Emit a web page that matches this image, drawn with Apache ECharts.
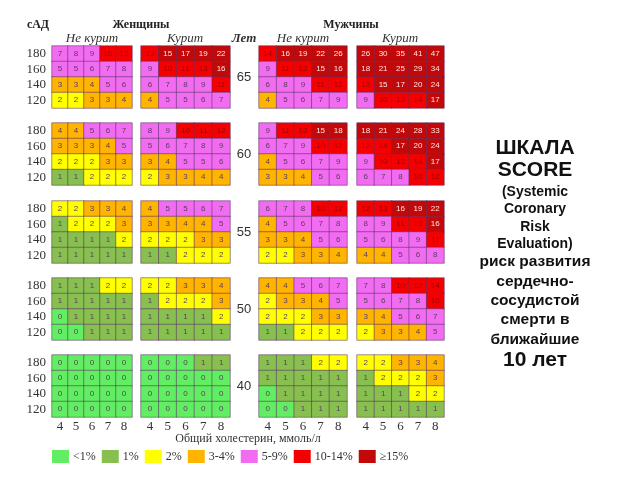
<!DOCTYPE html>
<html>
<head>
<meta charset="utf-8">
<script src="https://cdn.jsdelivr.net/npm/echarts@6/dist/echarts.min.js"></script>
<style>
  html, body { margin: 0; background: #fff; }
  #chart { width: 640px; height: 480px; }
</style>
</head>
<body>
<div id="chart"></div>
<script>
// SCORE chart values, % risk over 10 years
const ages = ['65', '60', '55', '50', '40']
const pressure = ['120', '140', '160', '180']
const cholesterol = ['4', '5', '6', '7', '8']

// each age block: rows from 180 down to 120, columns chol 4..8
const womenNonSmoker = [
  [[7, 8, 9, 10, 12], [5, 5, 6, 7, 8], [3, 3, 4, 5, 6], [2, 2, 3, 3, 4]],
  [[4, 4, 5, 6, 7], [3, 3, 3, 4, 5], [2, 2, 2, 3, 3], [1, 1, 2, 2, 2]],
  [[2, 2, 3, 3, 4], [1, 2, 2, 2, 3], [1, 1, 1, 1, 2], [1, 1, 1, 1, 1]],
  [[1, 1, 1, 2, 2], [1, 1, 1, 1, 1], [0, 1, 1, 1, 1], [0, 0, 1, 1, 1]],
  [[0, 0, 0, 0, 0], [0, 0, 0, 0, 0], [0, 0, 0, 0, 0], [0, 0, 0, 0, 0]]
]
const womenSmoker = [
  [[13, 15, 17, 19, 22], [9, 10, 11, 13, 16], [6, 7, 8, 9, 11], [4, 5, 5, 6, 7]],
  [[8, 9, 10, 11, 12], [5, 6, 7, 8, 9], [3, 4, 5, 5, 6], [2, 3, 3, 4, 4]],
  [[4, 5, 5, 6, 7], [3, 3, 4, 4, 5], [2, 2, 2, 3, 3], [1, 1, 2, 2, 2]],
  [[2, 2, 3, 3, 4], [1, 2, 2, 2, 3], [1, 1, 1, 1, 2], [1, 1, 1, 1, 1]],
  [[0, 0, 0, 1, 1], [0, 0, 0, 0, 0], [0, 0, 0, 0, 0], [0, 0, 0, 0, 0]]
]
const menNonSmoker = [
  [[14, 16, 19, 22, 26], [9, 11, 13, 15, 16], [6, 8, 9, 11, 12], [4, 5, 6, 7, 9]],
  [[9, 11, 13, 15, 18], [6, 7, 9, 10, 12], [4, 5, 6, 7, 9], [3, 3, 4, 5, 6]],
  [[6, 7, 8, 10, 12], [4, 5, 6, 7, 8], [3, 3, 4, 5, 6], [2, 2, 3, 3, 4]],
  [[4, 4, 5, 6, 7], [2, 3, 3, 4, 5], [2, 2, 2, 3, 3], [1, 1, 2, 2, 2]],
  [[1, 1, 1, 2, 2], [1, 1, 1, 1, 1], [0, 1, 1, 1, 1], [0, 0, 1, 1, 1]]
]
const menSmoker = [
  [[26, 30, 35, 41, 47], [18, 21, 25, 29, 34], [13, 15, 17, 20, 24], [9, 10, 12, 14, 17]],
  [[18, 21, 24, 28, 33], [13, 14, 17, 20, 24], [9, 10, 12, 14, 17], [6, 7, 8, 10, 12]],
  [[12, 13, 16, 19, 22], [8, 9, 11, 13, 16], [5, 6, 8, 9, 11], [4, 4, 5, 6, 8]],
  [[7, 8, 10, 12, 14], [5, 6, 7, 8, 10], [3, 4, 5, 6, 7], [2, 3, 3, 4, 5]],
  [[2, 2, 3, 3, 4], [1, 2, 2, 2, 3], [1, 1, 1, 2, 2], [1, 1, 1, 1, 1]]
]

const riskLabels = ['<1%', '1%', '2%', '3-4%', '5-9%', '10-14%', '≥15%']
const riskColors = ['#62ee62', '#88c050', '#ffff00', '#ffb400', '#f26cf2', '#f50000', '#c20808']

const groups = [womenNonSmoker, womenSmoker, menNonSmoker, menSmoker]
const groupLeft = [52, 141, 259, 357]
const groupWidth = [80, 89, 88, 87]
const blockTop = [46, 123, 201, 278, 355]
const blockHeight = 62

const serif = 'Liberation Serif'
const sans = 'Liberation Sans'

const grid = []
const xAxis = []
const yAxis = []
const series = []

ages.forEach(function (age, a) {
  groups.forEach(function (group, g) {
    const idx = grid.length
    grid.push({ left: groupLeft[g], top: blockTop[a], width: groupWidth[g], height: blockHeight })
    xAxis.push({
      type: 'category',
      gridIndex: idx,
      data: cholesterol,
      axisLine: { show: false },
      axisTick: { show: false },
      axisLabel: { show: a === ages.length - 1, interval: 0, fontFamily: serif, fontSize: 13, color: '#333', margin: 3 },
      splitLine: { show: false }
    })
    yAxis.push({
      type: 'category',
      gridIndex: idx,
      data: pressure,
      axisLine: { show: false },
      axisTick: { show: false },
      axisLabel: { show: g === 0, interval: 0, fontFamily: serif, fontSize: 13, color: '#333', margin: 6 },
      splitLine: { show: false }
    })
    const data = []
    group[a].forEach(function (row, r) {
      row.forEach(function (v, c) {
        data.push([c, pressure.length - 1 - r, v])
      })
    })
    series.push({
      type: 'heatmap',
      xAxisIndex: idx,
      yAxisIndex: idx,
      data: data,
      itemStyle: { borderColor: 'rgba(90,50,100,0.55)', borderWidth: 1 },
      label: {
        show: true,
        fontFamily: sans,
        formatter: function (p) {
          const v = p.value[2]
          const k = v >= 15 ? 'w' : (v >= 10 ? 'r' : 'd')
          return '{' + k + '|' + v + '}'
        },
        rich: {
          d: { color: '#5a3d5c', fontSize: 8, fontFamily: sans },
          r: { color: '#a00000', fontSize: 8, fontFamily: sans },
          w: { color: '#ffe4e4', fontSize: 8, fontFamily: sans }
        }
      },
      emphasis: { disabled: true },
      silent: true
    })
  })
})

const pieces = [
  { lt: 1 }, { gte: 1, lt: 2 }, { gte: 2, lt: 3 }, { gte: 3, lt: 5 },
  { gte: 5, lt: 10 }, { gte: 10, lt: 15 }, { gte: 15 }
].map(function (p, i) {
  return Object.assign(p, { label: riskLabels[i], color: riskColors[i] })
})

const headText = { fontFamily: serif, fontSize: 12, fontWeight: 'bold', fill: '#222' }
const subText = { fontFamily: serif, fontSize: 13, fontStyle: 'italic', fill: '#333' }

function txt(x, y, text, style, align) {
  return {
    type: 'text', x: x, y: y,
    style: Object.assign({ text: text, textAlign: align || 'center', textVerticalAlign: 'middle' }, style)
  }
}

const graphic = [
  txt(38, 25, 'сАД', headText),
  txt(141, 25, 'Женщины', headText),
  txt(351, 25, 'Мужчины', headText),
  txt(92, 39, 'Не курит', subText),
  txt(185, 39, 'Курит', subText),
  txt(244, 39, 'Лет', Object.assign({}, subText, { fontWeight: 'bold' })),
  txt(303, 39, 'Не курит', subText),
  txt(400, 39, 'Курит', subText),
  txt(248, 439, 'Общий холестерин, ммоль/л', { fontFamily: serif, fontSize: 12, fill: '#333' })
]
ages.forEach(function (age, a) {
  graphic.push(txt(244, blockTop[a] + blockHeight / 2, age, { fontFamily: sans, fontSize: 13, fill: '#333' }))
})

const sideLines = [
  ['ШКАЛА', 148, 21], ['SCORE', 170, 21],
  ['(Systemic', 192, 14], ['Coronary', 209, 14], ['Risk', 227, 14], ['Evaluation)', 244, 14],
  ['риск развития', 262, 15.5], ['сердечно-', 282, 15.5], ['сосудистой', 301, 15.5],
  ['смерти в', 320, 15.5], ['ближайшие', 340, 15.5], ['10 лет', 360, 21]
]
sideLines.forEach(function (s) {
  graphic.push(txt(535, s[1], s[0], { fontFamily: sans, fontSize: s[2], fontWeight: 'bold', fill: '#111' }))
})

const chart = echarts.init(document.getElementById('chart'), null, { renderer: 'canvas' })
chart.setOption({
  backgroundColor: '#fff',
  animation: false,
  grid: grid,
  xAxis: xAxis,
  yAxis: yAxis,
  visualMap: {
    type: 'piecewise',
    dimension: 2,
    orient: 'horizontal',
    left: 52,
    top: 450,
    padding: 0,
    itemWidth: 17,
    itemHeight: 13,
    itemGap: 6,
    textGap: 4,
    itemSymbol: 'rect',
    hoverLink: false,
    selectedMode: false,
    pieces: pieces,
    textStyle: { fontFamily: serif, fontSize: 12, color: '#333' }
  },
  graphic: graphic,
  series: series
})
</script>
</body>
</html>
